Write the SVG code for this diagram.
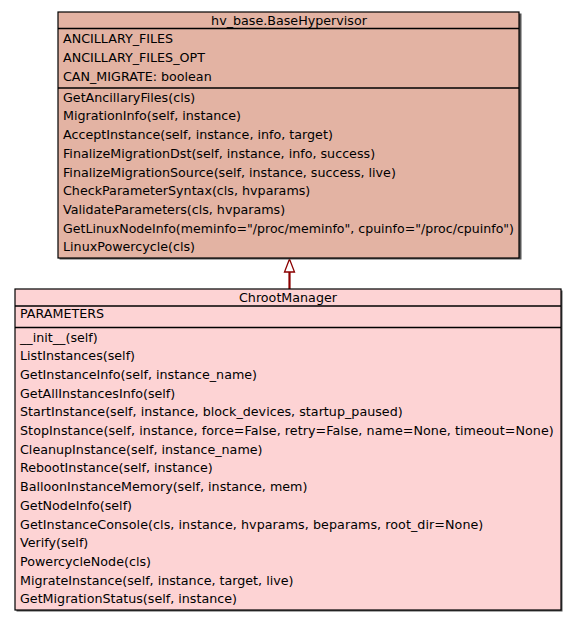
<svg xmlns="http://www.w3.org/2000/svg" width="576" height="621" viewBox="0 0 576 621">
<style>
text{font-family:"DejaVu Sans",sans-serif;font-size:12.7px;fill:#000}
.t{text-anchor:middle}
.box{stroke:#000;stroke-width:1.2}
.shadow{fill:#555}
.sep{stroke:#000;stroke-width:1.5}
.b1{fill:#e3b3a3}
.b2{fill:#fdd3d4}
</style>
<rect x="0" y="0" width="576" height="621" fill="#fff"/>
<g id="connectors">
<line x1="289.5" y1="289" x2="289.5" y2="272" stroke="#8b0000" stroke-width="2.2"/>
<polygon points="289.5,259 284.5,272 294.5,272" fill="#fff" stroke="#8b0000" stroke-width="1.3"/>
</g>
<g id="node-BaseHypervisor">
<rect class="shadow" x="59.5" y="13.5" width="462" height="246"/>
<rect class="box b1" x="58" y="12" width="461" height="246"/>
<line class="sep" x1="58" y1="28.5" x2="519" y2="28.5"/>
<line class="sep" x1="58" y1="88" x2="519" y2="88"/>
<text class="t" x="289" y="25">hv_base.BaseHypervisor</text>
<text x="63" y="43.3">ANCILLARY_FILES</text>
<text x="63" y="62">ANCILLARY_FILES_OPT</text>
<text x="63" y="80.7">CAN_MIGRATE: boolean</text>
<text x="63" y="101.7">GetAncillaryFiles(cls)</text>
<text x="63" y="120.4">MigrationInfo(self, instance)</text>
<text x="63" y="139.1">AcceptInstance(self, instance, info, target)</text>
<text x="63" y="157.8">FinalizeMigrationDst(self, instance, info, success)</text>
<text x="63" y="176.5">FinalizeMigrationSource(self, instance, success, live)</text>
<text x="63" y="195.2">CheckParameterSyntax(cls, hvparams)</text>
<text x="63" y="213.9">ValidateParameters(cls, hvparams)</text>
<text x="63" y="232.6" textLength="451" lengthAdjust="spacingAndGlyphs">GetLinuxNodeInfo(meminfo="/proc/meminfo", cpuinfo="/proc/cpuinfo")</text>
<text x="63" y="251.3">LinuxPowercycle(cls)</text>
</g>
<g id="node-ChrootManager">
<rect class="shadow" x="16.5" y="290.5" width="546" height="321"/>
<rect class="box b2" x="15" y="289" width="546" height="321"/>
<line class="sep" x1="15" y1="306" x2="561" y2="306"/>
<line class="sep" x1="15" y1="327.5" x2="561" y2="327.5"/>
<text class="t" x="288" y="301.5">ChrootManager</text>
<text x="20" y="318.3">PARAMETERS</text>
<text x="20" y="341.5">__init__(self)</text>
<text x="20" y="360.2">ListInstances(self)</text>
<text x="20" y="378.9">GetInstanceInfo(self, instance_name)</text>
<text x="20" y="397.6">GetAllInstancesInfo(self)</text>
<text x="20" y="416.3" textLength="382.7" lengthAdjust="spacing">StartInstance(self, instance, block_devices, startup_paused)</text>
<text x="20" y="435" textLength="533.7" lengthAdjust="spacing">StopInstance(self, instance, force=False, retry=False, name=None, timeout=None)</text>
<text x="20" y="453.7">CleanupInstance(self, instance_name)</text>
<text x="20" y="472.4">RebootInstance(self, instance)</text>
<text x="20" y="491.1">BalloonInstanceMemory(self, instance, mem)</text>
<text x="20" y="509.8">GetNodeInfo(self)</text>
<text x="20" y="528.5" textLength="463.3" lengthAdjust="spacing">GetInstanceConsole(cls, instance, hvparams, beparams, root_dir=None)</text>
<text x="20" y="547.2">Verify(self)</text>
<text x="20" y="565.9">PowercycleNode(cls)</text>
<text x="20" y="584.6">MigrateInstance(self, instance, target, live)</text>
<text x="20" y="603.3">GetMigrationStatus(self, instance)</text>
</g>
</svg>
